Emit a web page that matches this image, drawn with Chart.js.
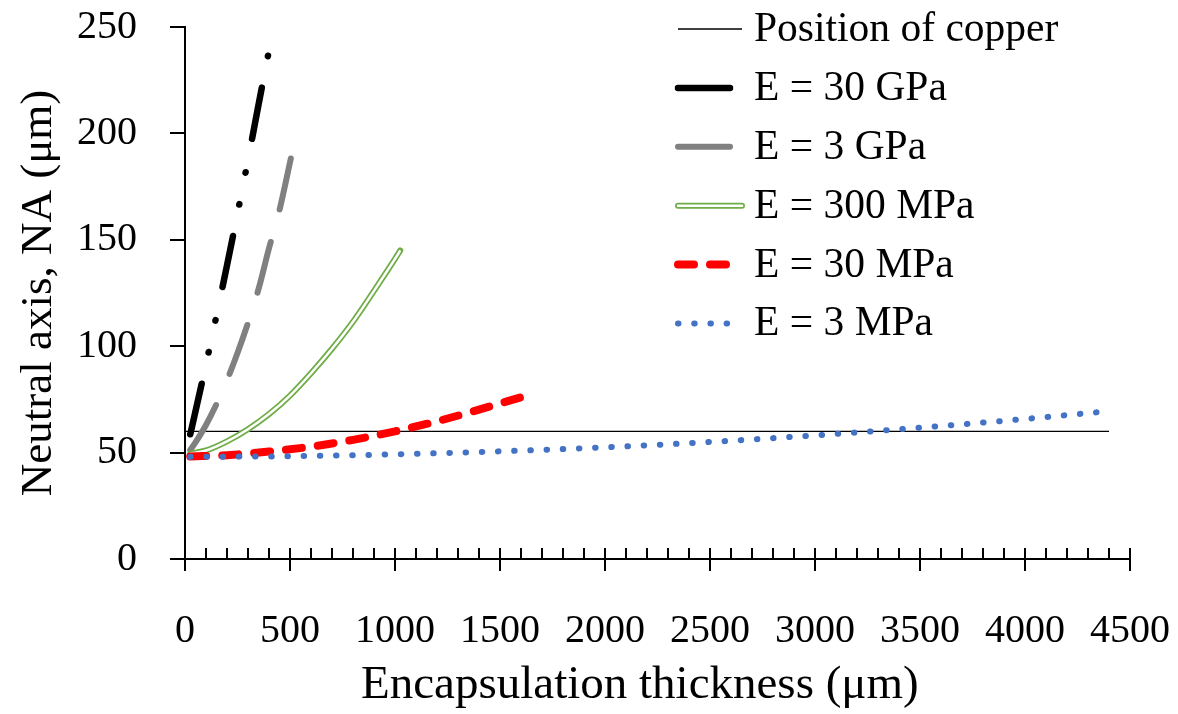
<!DOCTYPE html>
<html>
<head>
<meta charset="utf-8">
<script src="https://cdn.jsdelivr.net/npm/chart.js@4.4.1/dist/chart.umd.min.js"></script>
<style>
  html, body { margin: 0; padding: 0; background: #fff; }
</style>
</head>
<body>
<canvas id="naChart" width="1178" height="714"></canvas>
<script>
// thickness (um) and neutral axis (um)
const copperX = [0, 4400];
const copperY = [60, 60];

const gpa30X = [25, 50, 100, 150, 200, 250, 300, 350, 402];
const gpa30Y = [58.6, 69.4, 91.5, 114.4, 138, 162.4, 187.5, 213.4, 240];

const gpa3X = [25, 50, 100, 150, 200, 250, 300, 350, 400, 450, 510];
const gpa3Y = [51.2, 54.8, 63, 72.8, 84, 96.8, 111, 126.8, 146, 164, 191];

const mpa300X = [25, 100, 200, 300, 400, 500, 600, 700, 800, 900, 1000, 1025];
const mpa300Y = [49.5, 51, 55.3, 61, 68.1, 76.8, 87.3, 98.8, 111.5, 126, 141, 145];

const mpa30X = [25, 200, 400, 600, 800, 1000, 1200, 1400, 1600];
const mpa30Y = [48.2, 48.8, 50.5, 52.8, 56, 60, 64.7, 70.2, 76];

const mpa3X = [25, 500, 1000, 1500, 2000, 2500, 3000, 3500, 4000, 4370];
const mpa3Y = [48, 48.3, 49.2, 50.6, 52.5, 55, 58.1, 61.7, 65.8, 69.2];

const xTicks = [0, 500, 1000, 1500, 2000, 2500, 3000, 3500, 4000, 4500];
const yTicks = [0, 50, 100, 150, 200, 250];

function pts(xs, ys) {
    return xs.map((x, i) => ({ x: x, y: ys[i] }));
}

const serif = '"Liberation Serif", "Times New Roman", serif';
Chart.defaults.font.family = serif;
Chart.defaults.color = '#000';

// inner tick marks on the x axis (minor every 100, major inner half)
const innerTicks = {
    id: 'innerTicks',
    afterDraw(chart) {
        const ctx = chart.ctx;
        const xs = chart.scales.x;
        const y0 = xs.top;
        ctx.save();
        ctx.strokeStyle = '#000';
        ctx.lineWidth = 2;
        ctx.beginPath();
        for (let v = xs.min; v <= xs.max; v += 100) {
            const px = Math.round(xs.getPixelForValue(v));
            ctx.moveTo(px, y0);
            ctx.lineTo(px, y0 - 11);
        }
        ctx.stroke();
        ctx.restore();
    }
};

// legend drawn inside the plot, top right
const sideLegend = {
    id: 'sideLegend',
    afterDraw(chart) {
        const ctx = chart.ctx;
        const x0 = 678, x1 = 742, textX = 754;
        let y = 29;
        ctx.save();
        chart.data.datasets.forEach((ds) => {
            if (!ds.legend) return;
            ctx.beginPath();
            ctx.setLineDash(ds.borderDash || []);
            ctx.lineCap = ds.borderCapStyle || 'butt';
            ctx.lineWidth = ds.borderWidth;
            ctx.strokeStyle = ds.borderColor;
            ctx.moveTo(x0, y);
            ctx.lineTo(x1, y);
            ctx.stroke();
            if (ds.inner) {
                ctx.beginPath();
                ctx.setLineDash([]);
                ctx.lineWidth = 2.5;
                ctx.strokeStyle = '#fff';
                ctx.moveTo(x0, y);
                ctx.lineTo(x1, y);
                ctx.stroke();
            }
            ctx.setLineDash([]);
            ctx.fillStyle = '#000';
            ctx.font = '41.5px ' + serif;
            ctx.textBaseline = 'middle';
            ctx.textAlign = 'left';
            ctx.fillText(ds.label, textX, y + 1);
            y += 58.9;
        });
        ctx.restore();
    }
};

const datasets = [
    {
        label: 'E = 3 MPa', legend: true, data: pts(mpa3X, mpa3Y),
        borderColor: '#4472C4', borderWidth: 6, borderDash: [0.5, 15.7],
        borderCapStyle: 'round', order: 1
    },
    {
        label: 'E = 30 MPa', legend: true, data: pts(mpa30X, mpa30Y),
        borderColor: '#FF0000', borderWidth: 8, borderDash: [16, 16],
        borderCapStyle: 'round', order: 2
    },
    {
        label: 'E = 300 MPa inner', data: pts(mpa300X, mpa300Y),
        borderColor: '#FFFFFF', borderWidth: 2.5, order: 3
    },
    {
        label: 'E = 300 MPa', legend: true, inner: true, data: pts(mpa300X, mpa300Y),
        borderColor: '#70AD47', borderWidth: 6, borderCapStyle: 'round', order: 4
    },
    {
        label: 'E = 3 GPa', legend: true, data: pts(gpa3X, gpa3Y),
        borderColor: '#808080', borderWidth: 6, borderDash: [52, 34],
        borderCapStyle: 'round', order: 5
    },
    {
        label: 'E = 30 GPa', legend: true, data: pts(gpa30X, gpa30Y),
        borderColor: '#000000', borderWidth: 6.5, borderDash: [52, 32, 0.5, 32, 0.5, 34],
        borderCapStyle: 'round', order: 6
    },
    {
        label: 'Position of copper', legend: true, data: pts(copperX, copperY),
        borderColor: '#000000', borderWidth: 1.3, order: 7, tension: 0
    }
];
// legend order as in the figure
datasets.sort((a, b) => b.order - a.order);

new Chart(document.getElementById('naChart'), {
    type: 'line',
    data: { datasets: datasets },
    options: {
        responsive: false,
        animation: false,
        devicePixelRatio: 1,
        layout: { padding: { top: 27, right: 48, left: 0, bottom: 0 } },
        elements: {
            point: { radius: 0 },
            line: { cubicInterpolationMode: 'monotone', fill: false }
        },
        plugins: {
            legend: { display: false },
            tooltip: { enabled: false }
        },
        scales: {
            x: {
                type: 'linear', min: 0, max: 4500,
                afterBuildTicks: (s) => { s.ticks = xTicks.map(v => ({ value: v })); },
                afterFit: (s) => { s.height = 155; s.paddingLeft = 0; s.paddingRight = 0; },
                ticks: { font: { size: 40 }, padding: 36, maxRotation: 0, autoSkip: false,
                         callback: (v) => String(v) },
                grid: { drawOnChartArea: false, drawTicks: true, tickLength: 12, color: '#000', lineWidth: 2 },
                border: { display: true, color: '#000', width: 2 },
                // trailing spaces nudge the centred title left, as in the figure
                title: { display: true, text: 'Encapsulation thickness (μm)\u00A0\u00A0\u00A0', font: { size: 47 }, padding: { top: 0, bottom: 0 } }
            },
            y: {
                type: 'linear', min: 0, max: 250,
                afterBuildTicks: (s) => { s.ticks = yTicks.map(v => ({ value: v })); },
                afterFit: (s) => { s.width = 185; s.paddingTop = 0; s.paddingBottom = 0; },
                ticks: { font: { size: 40 }, padding: 33, callback: (v) => String(v) },
                grid: { drawOnChartArea: false, drawTicks: true, tickLength: 15, color: '#000', lineWidth: 2 },
                border: { display: true, color: '#000', width: 2 },
                title: { display: true, text: 'Neutral axis, NA (μm)', font: { size: 45 }, padding: { top: 12, bottom: 0 } }
            }
        }
    },
    plugins: [innerTicks, sideLegend]
});
</script>
</body>
</html>
